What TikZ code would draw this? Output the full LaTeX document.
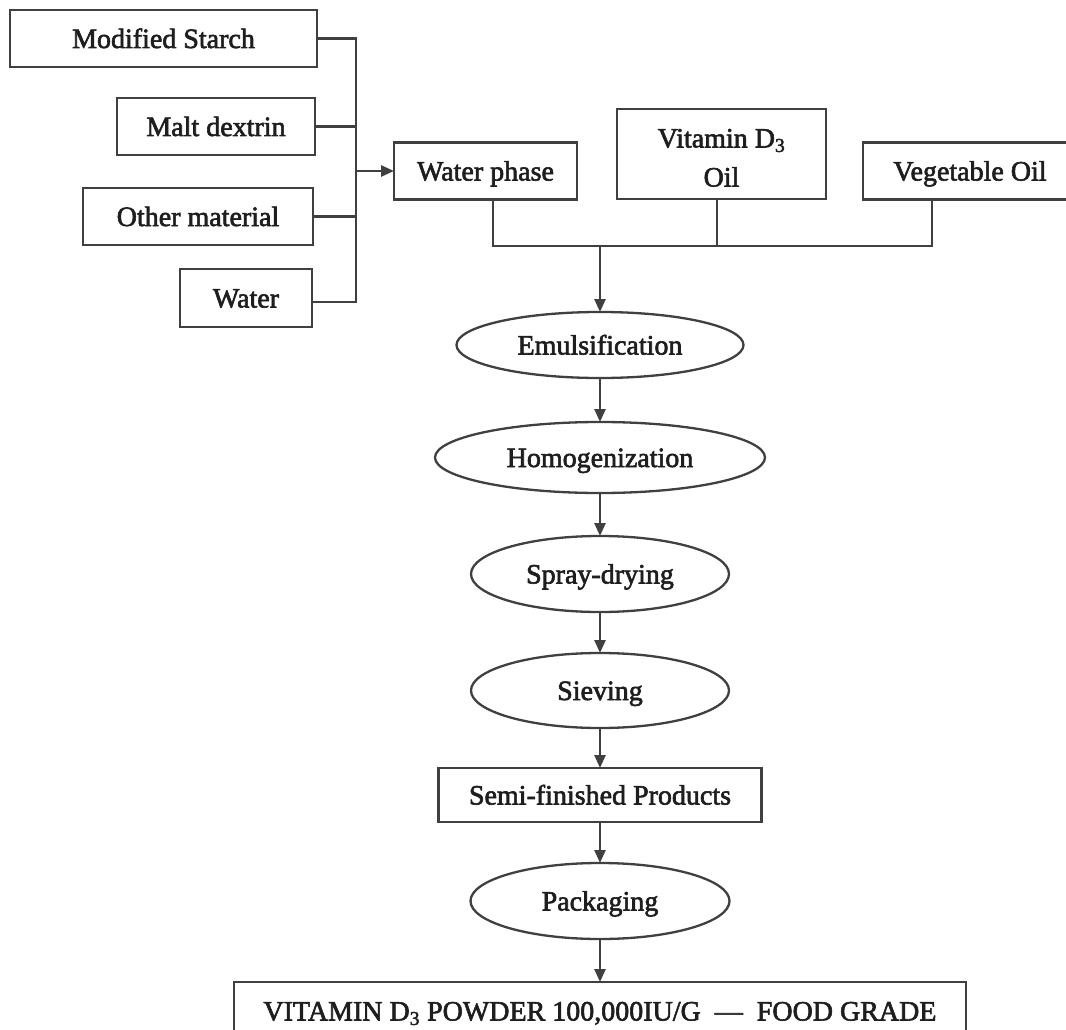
\documentclass[tikz,border=0pt]{standalone}
\usepackage{fontspec}
\setmainfont{Liberation Serif}[RawFeature={embolden=2.2}]
\usetikzlibrary{arrows.meta,shapes.geometric}
\definecolor{lc}{HTML}{404040}
\definecolor{tc}{HTML}{1E1E1E}
\begin{document}
\begin{tikzpicture}[x=1pt,y=-1pt,
  txt/.style={text=tc, font=\fontsize{28}{39}\selectfont, align=center, inner sep=0pt, outer sep=0pt,
    text height=19pt, text depth=0pt},
  box/.style={txt, draw=lc, line width=2.5pt, rectangle},
  oval/.style={txt, draw=lc, line width=2.3pt, ellipse},
  conn/.style={draw=lc, line width=2.5pt},
  arr/.style={conn, -{Triangle[length=13pt,width=11pt]}}]
\useasboundingbox[fill=white] (0,0) rectangle (1066,1030);

% left inputs
\node[box, minimum width=307pt, minimum height=57pt] (ms) at (163.5,38.5) {Modified Starch};
\node[box, minimum width=198pt, minimum height=57pt] (md) at (216,126.5) {Malt dextrin};
\node[box, minimum width=230pt, minimum height=57pt] (om) at (198,216.5) {Other material};
\node[box, minimum width=132pt, minimum height=58pt] (wa) at (246,298) {Water};

% top row
\node[box, minimum width=183pt, minimum height=57pt] (wp) at (485.5,171) {Water phase};
\node[box, minimum width=209pt, minimum height=90pt, text height=65pt] (vd) at (721.5,154) {Vitamin D\textsubscript{3}\\Oil};
\node[box, minimum width=214pt, minimum height=57pt] (vo) at (970,171) {Vegetable Oil};

% process chain
\node[oval, minimum width=287pt, minimum height=66pt] (em) at (600,345) {Emulsification};
\node[oval, minimum width=330pt, minimum height=71pt] (ho) at (600,457.5) {Homogenization};
\node[oval, minimum width=258pt, minimum height=76pt] (sp) at (600,574) {Spray-drying};
\node[oval, minimum width=258pt, minimum height=75pt] (si) at (600,690.5) {Sieving};
\node[box, minimum width=323pt, minimum height=54pt] (sf) at (600,795) {Semi-finished Products};
\node[oval, minimum width=259pt, minimum height=76pt] (pk) at (600,901) {Packaging};
\node[box, minimum width=732pt, minimum height=58pt] (fn) at (600,1011)
  {VITAMIN D\textsubscript{3} POWDER 100,000IU/G\hspace{0.5em}—\hspace{0.5em}FOOD GRADE};

% left bus
\coordinate (bus) at (356,171);
\draw[conn] (ms.east) -| (bus);
\draw[conn] ([yshift=-4pt]wa.east) -| (bus);
\draw[conn] (md.east) -- (md.east -| bus);
\draw[conn] (om.east) -- (om.east -| bus);
\draw[arr] (bus) -- (wp.west);

% top bus
\coordinate (tw) at (493,246);
\coordinate (tv) at (717,246);
\coordinate (tr) at (932,246);
\coordinate (tb) at (600,246);
\draw[conn] (tw |- wp.south) -- (tw) -- (tr) -- (tr |- vo.south);
\draw[conn] (tv |- vd.south) -- (tv);
\draw[arr] (tb) -- (em.north);

% chain arrows
\draw[arr] (em.south) -- (ho.north);
\draw[arr] (ho.south) -- (sp.north);
\draw[arr] (sp.south) -- (si.north);
\draw[arr] (si.south) -- (sf.north);
\draw[arr] (sf.south) -- (pk.north);
\draw[arr] (pk.south) -- (fn.north);
\end{tikzpicture}
\end{document}
